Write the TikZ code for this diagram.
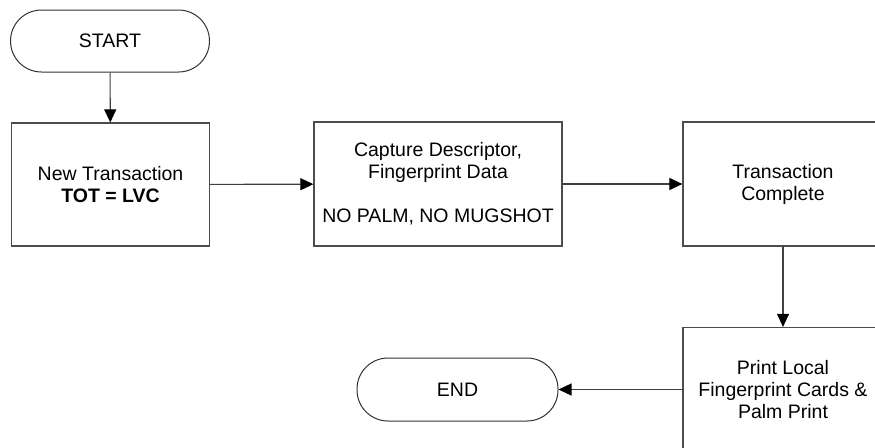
\documentclass[tikz,border=0pt]{standalone}
\usepackage{fontspec}
\setmainfont{Liberation Sans}
\usetikzlibrary{arrows.meta}
\tikzset{
  lbl/.style={font=\fontsize{19.5}{22}\selectfont, align=center, text=black},
  proc/.style={lbl, draw=black!70, line width=1.2pt, rectangle, inner sep=0pt},
  term/.style={lbl, draw=black!80, line width=1pt, rectangle, rounded corners=31pt, inner sep=0pt},
  conn/.style={draw=black!75, line width=1.1pt, -{Triangle[length=13pt,width=12pt,color=black]}}
}
\begin{document}
\begin{tikzpicture}[x=1pt,y=-1pt]
\useasboundingbox (0,0) rectangle (875,447);
\clip (0,0) rectangle (875,447);
\fill[white] (0,0) rectangle (875,447);
\node[term, minimum width=199pt, minimum height=62pt] (start) at (110,41) {START};
\node[proc, minimum width=198pt, minimum height=123pt] (new) at (110.5,184.5) {New Transaction\\\textbf{TOT = LVC}};
\node[proc, minimum width=248pt, minimum height=124pt] (cap) at (438,184) {Capture Descriptor,\\Fingerprint Data\\[22pt]NO PALM, NO MUGSHOT};
\node[proc, minimum width=200pt, minimum height=124pt] (done) at (783,184) {Transaction\\Complete};
\node[proc, minimum width=200pt, minimum height=124pt] (print) at (783,389.5) {Print Local\\Fingerprint Cards \&\\Palm Print};
\node[term, minimum width=201pt, minimum height=63pt] (end) at (457.5,389.5) {END};
\draw[conn] (start) -- (new);
\draw[conn] (new) -- (cap);
\draw[conn] (cap) -- (done);
\draw[conn] (done) -- (print);
\draw[conn] (print) -- (end);
\end{tikzpicture}
\end{document}
